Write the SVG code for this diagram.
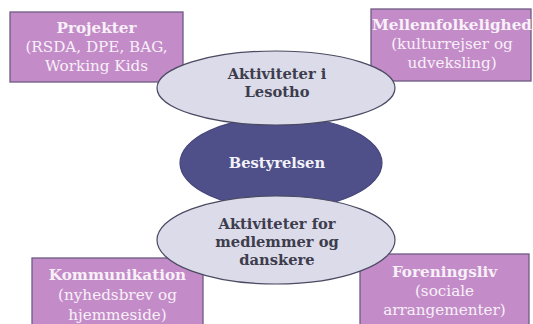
<svg xmlns="http://www.w3.org/2000/svg" width="533" height="324" viewBox="0 0 533 324">
<style>
.box{fill:#c38cc8;stroke:#6e5a82;stroke-width:1.3}
.light{fill:#dbdbe9;stroke:#4a4a62;stroke-width:1.2}
.dark{fill:#4f4f8a;stroke:#45457a;stroke-width:1.2}
text{font-family:"DejaVu Serif","Liberation Serif",serif;text-anchor:middle}
.bt{fill:#f8f0f8;font-size:15.2px}
.b{font-weight:bold}
.et{fill:#3d3d4d;font-weight:bold;font-size:14.7px}
.dt{fill:#f2f2f8;font-weight:bold;font-size:14.7px}
</style>
<rect width="533" height="324" fill="#ffffff"/>
<g id="projekter">
<rect class="box" x="10" y="12" width="173" height="70"/>
<text class="bt b" x="96.5" y="33">Projekter</text>
<text class="bt" x="96.5" y="52">(RSDA, DPE, BAG,</text>
<text class="bt" x="96.5" y="71">Working Kids</text>
</g>
<g id="mellemfolkelighed">
<rect class="box" x="371" y="9" width="160" height="72"/>
<text class="bt b" x="452" y="30">Mellemfolkelighed</text>
<text class="bt" x="452" y="49">(kulturrejser og</text>
<text class="bt" x="452" y="68">udveksling)</text>
</g>
<g id="kommunikation">
<rect class="box" x="32" y="258" width="171" height="70"/>
<text class="bt b" x="117.5" y="280">Kommunikation</text>
<text class="bt" x="117.5" y="300">(nyhedsbrev og</text>
<text class="bt" x="117.5" y="320">hjemmeside)</text>
</g>
<g id="foreningsliv">
<rect class="box" x="360" y="254" width="169" height="74"/>
<text class="bt b" x="444.5" y="277">Foreningsliv</text>
<text class="bt" x="444.5" y="296">(sociale</text>
<text class="bt" x="444.5" y="315">arrangementer)</text>
</g>
<g id="connectors"></g>
<g id="bestyrelsen">
<ellipse class="dark" cx="281" cy="163" rx="101" ry="46"/>
<text class="dt" x="277" y="168">Bestyrelsen</text>
</g>
<g id="aktiviteter-lesotho">
<ellipse class="light" cx="276" cy="88" rx="119" ry="37"/>
<text class="et" x="277" y="79">Aktiviteter i</text>
<text class="et" x="277" y="97">Lesotho</text>
</g>
<g id="aktiviteter-medlemmer">
<ellipse class="light" cx="276" cy="240" rx="119" ry="44"/>
<text class="et" x="277" y="229">Aktiviteter for</text>
<text class="et" x="277" y="247">medlemmer og</text>
<text class="et" x="277" y="265">danskere</text>
</g>
</svg>
